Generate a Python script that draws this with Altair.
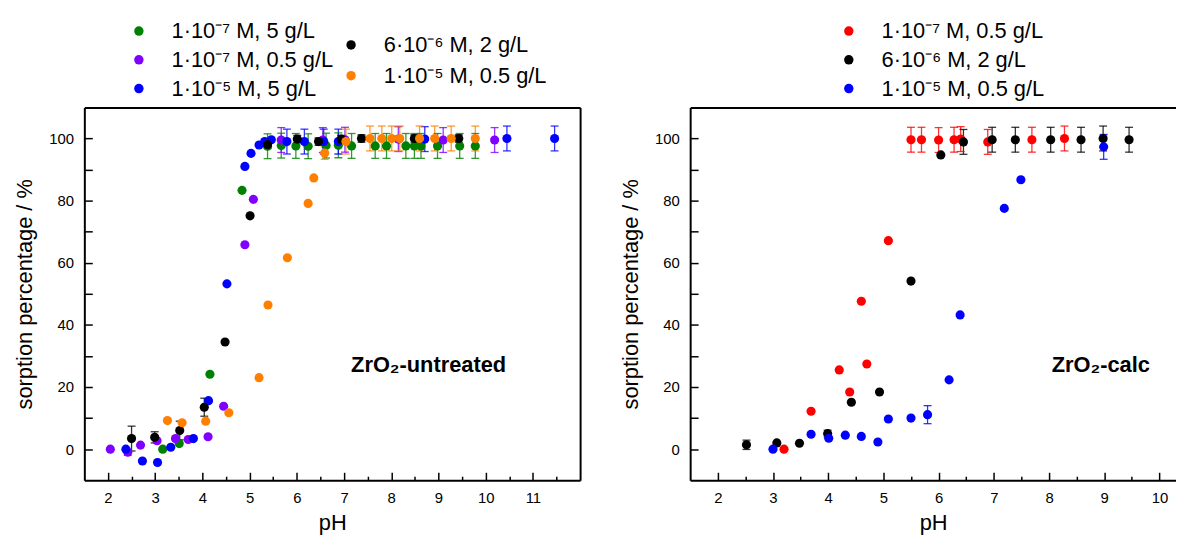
import altair as alt
import pandas as pd

FONT = "Liberation Sans"

# ---------------- Left panel: ZrO2-untreated ----------------
L_labels = ["1·10⁻⁷ M, 5 g/L", "1·10⁻⁷ M, 0.5 g/L", "1·10⁻⁵ M, 5 g/L",
            "6·10⁻⁶ M, 2 g/L", "1·10⁻⁵ M, 0.5 g/L"]
L_colors = ["#008000", "#8000FF", "#0000FF", "#000000", "#FF8000"]

green_ph = [3.16, 3.51, 4.16, 4.84, 5.38, 5.67, 5.98, 6.24, 6.62, 6.88, 7.16, 7.66, 7.90, 8.31, 8.49, 8.63, 8.98, 9.45, 9.78]
green_val = [0.0, 1.8, 24.1, 83.3, 97.5, 97.7, 97.6, 97.5, 97.7, 97.8, 97.6, 97.6, 97.6, 97.6, 97.6, 97.6, 97.6, 97.6, 97.6]
green_err = [0, 0, 0, 0, 4, 4, 4, 4, 4, 4, 4, 4, 4, 4, 4, 4, 4, 4, 4]

purple_ph = [2.05, 2.42, 2.69, 3.04, 3.43, 3.70, 4.12, 4.45, 4.90, 5.08, 5.67, 6.55, 7.02, 8.15, 9.10, 10.19]
purple_val = [0.0, -1.0, 1.3, 2.7, 3.4, 3.1, 4.0, 13.8, 65.8, 80.4, 99.5, 99.5, 99.6, 99.8, 99.5, 99.5]
purple_err = [0, 1, 0, 0, 0, 0, 0, 0, 0, 0, 4, 4, 4, 4, 4, 4]

blue_ph = [2.38, 2.73, 3.05, 3.33, 3.81, 4.13, 4.52, 4.90, 5.03, 5.20, 5.32, 5.46, 5.79, 6.16, 6.57, 6.88, 8.71, 10.45, 11.46]
blue_val = [0.0, -3.8, -4.3, 0.6, 3.4, 15.6, 53.2, 91.0, 95.2, 97.9, 99.0, 99.6, 99.0, 99.0, 99.0, 99.0, 99.8, 100.0, 100.0]
blue_err = [0, 0, 0, 0, 0, 0, 0, 0, 0, 0, 0, 0, 4, 4, 4, 4, 4, 4, 4]

black_ph = [2.50, 2.99, 3.52, 4.04, 4.48, 5.01, 5.38, 6.01, 6.46, 6.94, 7.37, 8.49, 9.43]
black_val = [3.4, 3.8, 6.0, 13.5, 34.5, 75.1, 98.0, 99.8, 99.0, 99.8, 100.0, 100.0, 100.0]
black_err = [4.0, 1.8, 3.0, 2.9, 0, 0, 1.2, 1.2, 1.2, 1.2, 1.2, 1.2, 1.2]

orange_ph = [3.26, 3.57, 4.07, 4.56, 5.20, 5.39, 5.80, 6.24, 6.36, 6.59, 7.04, 7.55, 7.80, 8.01, 8.18, 8.60, 8.92, 9.27, 9.78]
orange_val = [9.2, 8.5, 9.0, 11.7, 23.0, 46.4, 61.6, 79.1, 87.3, 95.3, 99.0, 100.0, 100.0, 100.0, 100.0, 100.0, 100.0, 100.0, 100.0]
orange_err = [0, 0, 0, 0, 0, 0, 0, 0, 0, 2, 4, 4, 4, 4, 4, 4, 4, 4, 4]

# ---------------- Right panel: ZrO2-calc ----------------
R_labels = ["1·10⁻⁷ M, 0.5 g/L", "6·10⁻⁶ M, 2 g/L", "1·10⁻⁵ M, 0.5 g/L"]
R_colors = ["#FF0000", "#000000", "#0000FF"]

red_ph = [3.20, 3.69, 4.20, 4.39, 4.60, 4.70, 5.09, 5.50, 5.69, 6.00, 6.28, 6.40, 6.89, 7.69, 8.28]
red_val = [0.0, 12.2, 25.5, 18.4, 47.6, 27.4, 67.1, 99.6, 99.6, 99.5, 99.6, 99.8, 98.9, 99.6, 100.0]
red_err = [0, 0, 0, 0, 0, 0, 0, 4, 4, 4, 4, 4, 4, 4, 4]

rblack_ph = [2.52, 3.07, 3.48, 3.99, 4.42, 4.93, 5.50, 6.04, 6.45, 6.97, 7.39, 8.03, 8.58, 8.98, 9.45]
rblack_val = [1.4, 2.0, 1.9, 5.0, 15.1, 18.4, 54.1, 94.7, 98.9, 99.6, 99.6, 99.6, 99.6, 100.0, 99.6]
rblack_err = [1.5, 0, 0, 1.1, 0, 0, 0, 0, 4, 4, 4, 4, 4, 4, 4]

rblue_ph = [3.00, 3.69, 4.01, 4.31, 4.60, 4.90, 5.09, 5.50, 5.80, 6.19, 6.39, 7.19, 7.49, 8.99]
rblue_val = [0.0, 4.8, 3.5, 4.5, 4.1, 2.3, 9.7, 10.0, 11.1, 22.3, 43.2, 77.5, 86.7, 97.3]
rblue_err = [0, 0, 0, 0, 0, 0, 0, 0, 2.9, 0, 0, 0, 0, 4]

L_xdomain = [1.5, 12.0]
R_xdomain = [1.5, 10.3]
Y_domain = [-10, 110]
L_xticks = [2, 3, 4, 5, 6, 7, 8, 9, 10, 11]
L_xminor = [2.5, 3.5, 4.5, 5.5, 6.5, 7.5, 8.5, 9.5, 10.5, 11.5]
R_xticks = [2, 3, 4, 5, 6, 7, 8, 9, 10]
R_xminor = [2.5, 3.5, 4.5, 5.5, 6.5, 7.5, 8.5, 9.5]
y_labels = [0, 20, 40, 60, 80, 100]
y_ticks = [0, 10, 20, 30, 40, 50, 60, 70, 80, 90, 100]

L_annot = ["ZrO₂-untreated"]
L_annot_x = [7.15]
L_annot_y = [24.8]
R_annot = ["ZrO₂-calc"]
R_annot_x = [8.05]
R_annot_y = [24.8]

H = 376


def series_df(ph, val, err, label):
    return pd.DataFrame({"pH": ph, "val": val, "err": err, "series": label})


def err_tables(df):
    e = df[df["err"] > 0].copy()
    e["lo"] = e["val"] - e["err"]
    e["hi"] = e["val"] + e["err"]
    caps = pd.concat([
        e[["pH", "series"]].assign(v=e["lo"]),
        e[["pH", "series"]].assign(v=e["hi"]),
    ])
    return e, caps


def make_panel(groups, all_labels, all_colors, xdomain, width, xticks, xminor,
               annot, ax, ay, right_frame):
    xs = alt.Scale(domain=xdomain, nice=False, zero=False)
    ys = alt.Scale(domain=Y_domain, nice=False, zero=False)
    allcol = alt.Scale(domain=all_labels, range=all_colors)

    full = pd.concat([g[0] for g in groups])
    e, caps = err_tables(full)

    ax_main_x = alt.Axis(orient="bottom", values=xticks, format="d", ticks=False, tickSize=0,
                         labelPadding=10, labelFontSize=15, domain=True, domainWidth=2,
                         title="pH", titleFontSize=22, titleFontWeight="normal", titlePadding=8,
                         grid=False)
    ax_main_y = alt.Axis(orient="left", values=y_labels, format="d", ticks=False, tickSize=0,
                         labelPadding=11, labelFontSize=15, domain=True, domainWidth=2,
                         title="sorption percentage / %", titleFontSize=22,
                         titleFontWeight="normal", titlePadding=12, grid=False)
    ax_tick_x = alt.Axis(orient="bottom", values=xticks, offset=-8, tickSize=8, tickWidth=1.5,
                         labels=False, domain=False, title=None, grid=False)
    ax_tick_y = alt.Axis(orient="left", values=y_ticks, offset=-8, tickSize=8, tickWidth=1.5,
                         labels=False, domain=False, title=None, grid=False)
    ax_minor_x = alt.Axis(orient="bottom", values=xminor, offset=-4, tickSize=4, tickWidth=1.5,
                          labels=False, domain=False, title=None, grid=False)
    ax_top = alt.Axis(orient="top", ticks=False, labels=False, domain=True, domainWidth=2,
                      title=None, grid=False)
    ax_right = alt.Axis(orient="right", ticks=False, labels=False, domain=True, domainWidth=2,
                        title=None, grid=False)

    rules = alt.Chart(e).mark_rule(strokeWidth=1.3, opacity=0.8).encode(
        x=alt.X("pH:Q", scale=xs, axis=ax_tick_x),
        y=alt.Y("lo:Q", scale=ys, axis=ax_tick_y),
        y2="hi:Q",
        color=alt.Color("series:N", scale=allcol, legend=None),
    )
    capl = alt.Chart(caps).mark_tick(orient="horizontal", size=8, thickness=1.3, opacity=0.8).encode(
        x=alt.X("pH:Q", scale=xs, axis=ax_minor_x),
        y=alt.Y("v:Q", scale=ys, axis=None),
        color=alt.Color("series:N", scale=allcol, legend=None),
    )
    layers = [rules, capl]
    for i, (df, labels, colors, lx, ly, rp) in enumerate(groups):
        pts = alt.Chart(df).mark_circle(size=85, opacity=1).encode(
            x=alt.X("pH:Q", scale=xs, axis=ax_main_x if i == 0 else None),
            y=alt.Y("val:Q", scale=ys, axis=ax_main_y if i == 0 else None),
            color=alt.Color("series:N", sort=labels,
                            scale=alt.Scale(domain=labels, range=colors),
                            legend=alt.Legend(orient="none", legendX=lx, legendY=ly, title=None,
                                              labelFontSize=22, labelFont=FONT, labelLimit=400,
                                              symbolSize=90, symbolType="circle",
                                              symbolStrokeWidth=0, rowPadding=rp,
                                              labelOffset=22, padding=0)),
        )
        layers.append(pts)
    adf = pd.DataFrame({"t": annot, "x": ax, "y": ay})
    txt = alt.Chart(adf).mark_text(align="left", baseline="alphabetic", fontSize=22,
                                   fontWeight="bold", font=FONT, color="black").encode(
        x=alt.X("x:Q", scale=xs, axis=ax_top),
        y=alt.Y("y:Q", scale=ys, axis=ax_right if right_frame else None),
        text="t:N",
    )
    layers.append(txt)
    return alt.layer(*layers).resolve_scale(color="independent").resolve_axis(
        x="independent", y="independent").properties(width=width, height=H)


gdf = pd.concat([
    series_df(green_ph, green_val, green_err, L_labels[0]),
    series_df(purple_ph, purple_val, purple_err, L_labels[1]),
    series_df(blue_ph, blue_val, blue_err, L_labels[2]),
])
bdf = pd.concat([
    series_df(black_ph, black_val, black_err, L_labels[3]),
    series_df(orange_ph, orange_val, orange_err, L_labels[4]),
])
left = make_panel(
    [(gdf, L_labels[:3], L_colors[:3], 44, -88, 7),
     (bdf, L_labels[3:], L_colors[3:], 258, -74, 9)],
    L_labels, L_colors, L_xdomain, 500, L_xticks, L_xminor,
    L_annot, L_annot_x, L_annot_y, True)

rdf = pd.concat([
    series_df(red_ph, red_val, red_err, R_labels[0]),
    series_df(rblack_ph, rblack_val, rblack_err, R_labels[1]),
    series_df(rblue_ph, rblue_val, rblue_err, R_labels[2]),
])
right = make_panel(
    [(rdf, R_labels, R_colors, 149, -88, 7)],
    R_labels, R_colors, R_xdomain, 490, R_xticks, R_xminor,
    R_annot, R_annot_x, R_annot_y, False)

chart = alt.hconcat(left, right, spacing=39,
                    padding={"left": 5, "top": 10, "right": 0, "bottom": 0}).configure(
    font=FONT).configure_view(stroke=None).configure_axis(
    labelColor="black", titleColor="black", domainColor="black", tickColor="black",
    labelFont=FONT, titleFont=FONT)

chart.save("out.html", embed_options={"renderer": "svg", "actions": False})
